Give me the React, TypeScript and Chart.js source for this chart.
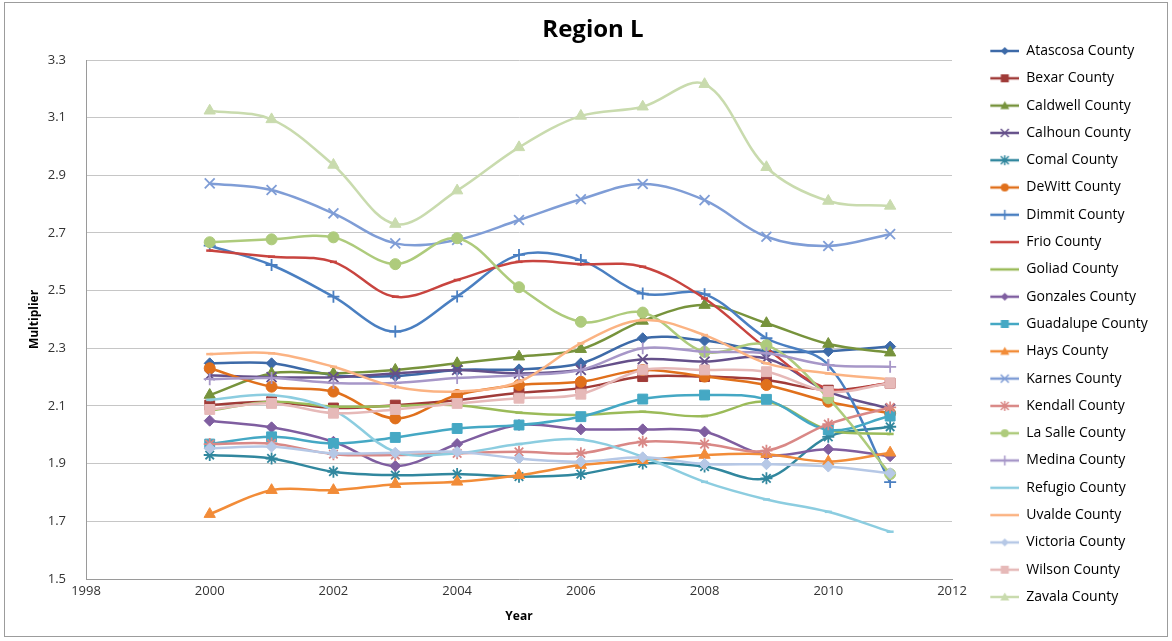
import React, { useEffect, useRef } from "react";
import { Chart, registerables } from "chart.js";

Chart.register(...registerables);

// ---------- data ----------
const years = [2000, 2001, 2002, 2003, 2004, 2005, 2006, 2007, 2008, 2009, 2010, 2011];
const xTickValues = [1998, 2000, 2002, 2004, 2006, 2008, 2010, 2012];
const yTickValues = [1.5, 1.7, 1.9, 2.1, 2.3, 2.5, 2.7, 2.9, 3.1, 3.3];

const countyNames = [
  "Atascosa County", "Bexar County", "Caldwell County", "Calhoun County", "Comal County",
  "DeWitt County", "Dimmit County", "Frio County", "Goliad County", "Gonzales County",
  "Guadalupe County", "Hays County", "Karnes County", "Kendall County", "La Salle County",
  "Medina County", "Refugio County", "Uvalde County", "Victoria County", "Wilson County",
  "Zavala County",
];

const atascosa = [2.248, 2.248, 2.207, 2.204, 2.225, 2.227, 2.248, 2.335, 2.327, 2.29, 2.29, 2.306];
const bexar = [2.103, 2.115, 2.093, 2.103, 2.12, 2.146, 2.162, 2.202, 2.202, 2.19, 2.155, 2.179];
const caldwell = [2.138, 2.213, 2.213, 2.225, 2.248, 2.271, 2.297, 2.395, 2.45, 2.387, 2.315, 2.285];
const calhoun = [2.207, 2.2, 2.2, 2.213, 2.225, 2.213, 2.225, 2.262, 2.254, 2.265, 2.15, 2.09];
const comal = [1.93, 1.918, 1.872, 1.86, 1.864, 1.855, 1.864, 1.901, 1.89, 1.849, 1.993, 2.028];
const dewitt = [2.231, 2.167, 2.15, 2.057, 2.138, 2.173, 2.184, 2.225, 2.202, 2.173, 2.115, 2.075];
const dimmit = [2.656, 2.589, 2.479, 2.358, 2.48, 2.624, 2.606, 2.49, 2.488, 2.335, 2.242, 1.836];
const frio = [2.639, 2.618, 2.6, 2.479, 2.537, 2.6, 2.592, 2.583, 2.473, 2.3, 2.16, 2.18];
const goliad = [2.084, 2.115, 2.098, 2.1, 2.103, 2.077, 2.069, 2.08, 2.065, 2.115, 2.017, 2.003];
const gonzales = [2.049, 2.026, 1.976, 1.892, 1.968, 2.034, 2.019, 2.019, 2.011, 1.93, 1.95, 1.926];
const guadalupe = [1.968, 1.993, 1.97, 1.991, 2.022, 2.034, 2.063, 2.124, 2.138, 2.123, 2.017, 2.065];
const hays = [1.725, 1.808, 1.808, 1.829, 1.837, 1.86, 1.895, 1.912, 1.93, 1.933, 1.907, 1.938];
const karnes = [2.872, 2.849, 2.768, 2.664, 2.676, 2.745, 2.817, 2.87, 2.814, 2.687, 2.655, 2.696];
const kendall = [1.968, 1.97, 1.933, 1.93, 1.936, 1.941, 1.936, 1.976, 1.968, 1.945, 2.037, 2.095];
const laSalle = [2.668, 2.678, 2.685, 2.592, 2.682, 2.512, 2.392, 2.424, 2.288, 2.311, 2.127, 1.864];
const medina = [2.193, 2.197, 2.18, 2.18, 2.197, 2.207, 2.225, 2.3, 2.288, 2.283, 2.242, 2.236];
const refugio = [2.121, 2.138, 2.086, 1.941, 1.936, 1.968, 1.984, 1.924, 1.837, 1.776, 1.733, 1.664];
const uvalde = [2.28, 2.283, 2.236, 2.167, 2.15, 2.184, 2.317, 2.398, 2.346, 2.248, 2.213, 2.192];
const victoria = [1.953, 1.959, 1.936, 1.938, 1.941, 1.918, 1.907, 1.922, 1.899, 1.898, 1.89, 1.867];
const wilson = [2.088, 2.109, 2.075, 2.088, 2.109, 2.127, 2.141, 2.225, 2.225, 2.219, 2.15, 2.179];
const zavala = [3.124, 3.094, 2.936, 2.731, 2.847, 2.997, 3.106, 3.138, 3.216, 2.928, 2.811, 2.794];

const seriesValues = [
  atascosa, bexar, caldwell, calhoun, comal, dewitt, dimmit, frio, goliad, gonzales,
  guadalupe, hays, karnes, kendall, laSalle, medina, refugio, uvalde, victoria, wilson, zavala,
];

const seriesColors = [
  "#3d6aa8", "#a03b38", "#77933c", "#65508a", "#31879e", "#e0701c", "#4a7fc1",
  "#c8443f", "#9bbb59", "#7f5ea0", "#45a8c4", "#f28c38", "#7f9dd6", "#d98886",
  "#aecb7c", "#a797c8", "#8ccde0", "#fbb383", "#b6c8e6", "#e6b9b8", "#c9dbae",
];

const seriesMarkers = [
  "rectRot", "rect", "triangle", "crossRot", "star", "circle", "cross",
  "line", "line", "rectRot", "rect", "triangle", "crossRot", "star",
  "circle", "cross", "line", "line", "rectRot", "rect", "triangle",
];

// ---------- styling helpers ----------
const FONT = "'Open Sans', sans-serif";
const markerRadius: Record<string, number> = {
  rectRot: 5.5, rect: 7, triangle: 6.5, circle: 5.5, crossRot: 7, cross: 6, star: 6, line: 3.5,
};
const strokeMarkers = ["crossRot", "cross", "star", "line"];

function makeLegendImage(color: string, marker: string, w: number, lineStart: number): HTMLCanvasElement {
  const c = document.createElement("canvas");
  c.width = w;
  c.height = 14;
  const ctx = c.getContext("2d")!;
  const cy = 7;
  ctx.strokeStyle = color;
  ctx.fillStyle = color;
  ctx.lineWidth = 2.5;
  ctx.beginPath();
  ctx.moveTo(lineStart, cy);
  ctx.lineTo(w, cy);
  ctx.stroke();
  const cx = (lineStart + w) / 2;
  const r = 4;
  ctx.lineWidth = 1.5;
  ctx.beginPath();
  switch (marker) {
    case "rectRot":
      ctx.moveTo(cx - r, cy); ctx.lineTo(cx, cy - r); ctx.lineTo(cx + r, cy); ctx.lineTo(cx, cy + r);
      ctx.closePath(); ctx.fill(); break;
    case "rect":
      ctx.rect(cx - 4, cy - 4, 8, 8); ctx.fill(); break;
    case "triangle":
      ctx.moveTo(cx, cy - 4.5); ctx.lineTo(cx + 4.5, cy + 3.5); ctx.lineTo(cx - 4.5, cy + 3.5);
      ctx.closePath(); ctx.fill(); break;
    case "circle":
      ctx.arc(cx, cy, 4, 0, Math.PI * 2); ctx.fill(); break;
    case "crossRot":
      ctx.moveTo(cx - 4, cy - 4); ctx.lineTo(cx + 4, cy + 4); ctx.moveTo(cx + 4, cy - 4); ctx.lineTo(cx - 4, cy + 4);
      ctx.stroke(); break;
    case "cross":
      ctx.moveTo(cx, cy - 5); ctx.lineTo(cx, cy + 5); ctx.stroke(); break;
    case "star":
      ctx.moveTo(cx - 4, cy - 4); ctx.lineTo(cx + 4, cy + 4); ctx.moveTo(cx + 4, cy - 4); ctx.lineTo(cx - 4, cy + 4);
      ctx.moveTo(cx, cy - 5); ctx.lineTo(cx, cy + 5);
      ctx.stroke(); break;
    default:
      break;
  }
  return c;
}

export default function App() {
  const ref = useRef<HTMLCanvasElement>(null);

  useEffect(() => {
    const canvas = ref.current;
    if (!canvas) return;
    const W = 1172;
    const H = 641;
    const plotLeft = 86;
    const plotRight = 952;
    const plotTop = 60;
    const plotBottom = 579;
    const legendFontSize = 14;
    const legendPad = 13.3;
    const boxW = 54;
    const legendTop = 30.7;
    const titleSize = 24;
    const titleLineH = titleSize * 1.2;
    const titleCenter = 30;
    const tickSize = 13;

    const mctx = document.createElement("canvas").getContext("2d")!;
    mctx.font = `${legendFontSize}px ${FONT}`;
    const maxW = Math.max(...countyNames.map((n) => mctx.measureText(n).width));
    // Chart.js adds 10px to the width of a vertical legend
    const legendWidth = legendPad + boxW + legendFontSize / 2 + maxW + 10;
    const padRight = Math.max(0, W - plotRight - legendWidth);
    const padLeft = padRight + 14;

    const titlePadTop = titleCenter - legendTop - titleLineH / 2;
    const titleBoxH = titleLineH + titlePadTop;
    const topSpacer = plotTop - legendTop - titleBoxH;

    const legendImages = countyNames.map((_, i) =>
      makeLegendImage(seriesColors[i], seriesMarkers[i], boxW, 25)
    );

    const framePlugin = {
      id: "frame",
      beforeDraw(chart: any) {
        const ctx = chart.ctx;
        ctx.save();
        ctx.fillStyle = "#ffffff";
        ctx.fillRect(0, 0, W, H);
        ctx.restore();
      },
      afterDraw(chart: any) {
        const ctx = chart.ctx;
        ctx.save();
        ctx.strokeStyle = "#9c9c9c";
        ctx.lineWidth = 1;
        ctx.strokeRect(4.5, 2.5, 1163, 634);
        ctx.restore();
      },
    };

    const datasets = countyNames.map((name, i) => {
      const m = seriesMarkers[i];
      return {
        label: name,
        data: years.map((yr, j) => ({ x: yr, y: seriesValues[i][j] })),
        borderColor: seriesColors[i],
        backgroundColor: seriesColors[i],
        pointBackgroundColor: seriesColors[i],
        pointBorderColor: seriesColors[i],
        pointStyle: m,
        pointRadius: markerRadius[m],
        pointBorderWidth: m === "line" ? 2.5 : strokeMarkers.includes(m) ? 1.8 : 1,
        borderWidth: 2.5,
        tension: 0.35,
        fill: false,
        order: countyNames.length - i,
        xAxisID: "x",
        yAxisID: "y",
      };
    });

    const chart = new Chart(canvas, {
      type: "line",
      data: { datasets },
      plugins: [framePlugin],
      options: {
        animation: false,
        responsive: false,
        events: [],
        devicePixelRatio: 1,
        layout: { padding: { top: legendTop, left: padLeft, right: padRight, bottom: 0 } },
        font: { family: FONT },
        plugins: {
          tooltip: { enabled: false },
          title: {
            display: true,
            text: "Region L",
            color: "#000",
            font: { size: titleSize, weight: "bold", family: FONT },
            padding: { top: titlePadTop, bottom: 0 },
          },
          legend: {
            position: "right",
            align: "start",
            labels: {
              usePointStyle: true,
              pointStyleWidth: boxW,
              padding: legendPad,
              color: "#000",
              font: { size: legendFontSize, family: FONT },
              generateLabels: () =>
                countyNames.map((name, i) => ({
                  text: name,
                  datasetIndex: i,
                  pointStyle: legendImages[i],
                  fillStyle: seriesColors[i],
                  strokeStyle: seriesColors[i],
                  fontColor: "#000",
                  lineWidth: 0,
                  hidden: false,
                })),
            },
          },
        },
        scales: {
          x: {
            type: "linear",
            position: "bottom",
            min: 1998,
            max: 2012,
            afterBuildTicks: (s: any) => {
              s.ticks = xTickValues.map((v) => ({ value: v }));
            },
            afterFit: (s: any) => {
              s.height = H - plotBottom;
            },
            grid: { display: false, drawTicks: false },
            border: { display: true, color: "#9a9a9a", width: 1 },
            ticks: {
              padding: 4,
              autoSkip: false,
              maxRotation: 0,
              color: "#333",
              font: { size: tickSize, family: FONT },
              callback: (v: any) => String(v),
            },
            title: {
              display: true,
              text: "Year",
              color: "#000",
              font: { size: 12, weight: "bold", family: FONT },
              padding: { top: 0, bottom: 16.8 },
            },
          },
          x2: {
            type: "linear",
            position: "top",
            display: true,
            grid: { display: false, drawTicks: false },
            border: { display: false },
            ticks: { display: false },
            afterFit: (s: any) => {
              s.height = topSpacer;
            },
          },
          y: {
            type: "linear",
            position: "left",
            min: 1.5,
            max: 3.3,
            afterBuildTicks: (s: any) => {
              s.ticks = yTickValues.map((v) => ({ value: v }));
            },
            afterFit: (s: any) => {
              s.width = plotLeft - padLeft;
            },
            grid: { color: "#c6c6c6", lineWidth: 1, drawTicks: false },
            border: { display: true, color: "#9a9a9a", width: 1 },
            ticks: {
              padding: 20,
              color: "#333",
              font: { size: tickSize, family: FONT },
              callback: (v: any) => Number(v).toFixed(1),
            },
            title: {
              display: true,
              text: "Multiplier",
              color: "#000",
              font: { size: 12, weight: "bold", family: FONT },
              padding: { top: 35 - padLeft - 7.2, bottom: 0 },
            },
          },
        },
      } as any,
    });

    return () => chart.destroy();
  }, []);

  return (
    <div style={{ position: "absolute", left: 0, top: 0, width: 1172, height: 641 }}>
      <canvas ref={ref} width={1172} height={641} style={{ display: "block" }} />
    </div>
  );
}
